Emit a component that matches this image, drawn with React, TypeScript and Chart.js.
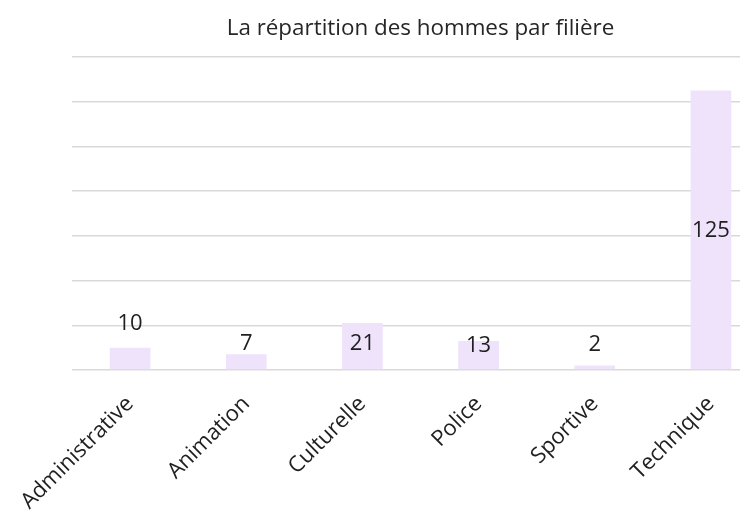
import React, { useEffect, useRef } from "react";
import { Chart, registerables } from "chart.js";

Chart.register(...registerables);

const categories = ["Administrative", "Animation", "Culturelle", "Police", "Sportive", "Technique"];
const hommes = [10, 7, 21, 13, 2, 125];
const titleText = "La répartition des hommes par filière";
const yMax = 140;
const yStep = 20;

// style: label centre height above the baseline (px); null = middle of bar
const labelLift: (number | null)[] = [46, 26, 26, 24, 25, null];

const FONT = "'Open Sans', 'Liberation Sans', sans-serif";
const CANVAS_W = 850;
const CANVAS_H = 511;

const labelPlugin = {
  id: "barLabels",
  afterDatasetsDraw(chart: any) {
    const ctx = chart.ctx;
    const meta = chart.getDatasetMeta(0);
    const yScale = chart.scales.y;
    const base = yScale.getPixelForValue(0);
    ctx.save();
    ctx.font = `22px ${FONT}`;
    ctx.fillStyle = "#1f1f1f";
    ctx.textAlign = "center";
    ctx.textBaseline = "middle";
    meta.data.forEach((bar: any, i: number) => {
      const lift = labelLift[i];
      const y = lift === null ? (bar.y + base) / 2 : base - lift;
      ctx.fillText(String(hommes[i]), bar.x, y);
    });
    ctx.restore();
  },
};

export default function App() {
  const ref = useRef<HTMLCanvasElement | null>(null);
  useEffect(() => {
    if (!ref.current) return;
    const chart = new Chart(ref.current, {
      type: "bar",
      data: {
        labels: categories,
        datasets: [
          {
            data: hommes,
            backgroundColor: "#EFE2FB",
            borderWidth: 0,
            barPercentage: 0.35,
            categoryPercentage: 1,
          },
        ],
      },
      options: {
        responsive: false,
        animation: false,
        layout: { padding: { left: 72, right: CANVAS_W - 769, top: 0, bottom: 0 } },
        plugins: {
          legend: { display: false },
          tooltip: { enabled: false },
          title: {
            display: true,
            text: titleText,
            color: "#262626",
            font: { family: FONT, size: 22.4, weight: "normal" as any, lineHeight: 1.2 },
            padding: { top: 15, bottom: 15.1 },
          },
        },
        scales: {
          x: {
            grid: { display: false },
            border: { display: false },
            ticks: {
              color: "#1f1f1f",
              font: { family: FONT, size: 22 },
              minRotation: 45,
              maxRotation: 45,
              padding: 13,
            },
            afterFit(scale: any) {
              scale.height = 141;
            },
          },
          y: {
            min: 0,
            max: yMax,
            ticks: { display: false, stepSize: yStep },
            grid: { color: "#D9D9D9", lineWidth: 1.5, drawTicks: false },
            border: { display: false },
            afterFit(scale: any) {
              scale.width = 0;
            },
          },
        },
      },
      plugins: [labelPlugin],
    });
    return () => chart.destroy();
  }, []);
  return (
    <div
      style={{
        position: "fixed",
        left: 0,
        top: 0,
        width: 740,
        height: 511,
        overflow: "hidden",
        background: "#ffffff",
      }}
    >
      <canvas ref={ref} width={CANVAS_W} height={CANVAS_H} style={{ display: "block" }} />
    </div>
  );
}
